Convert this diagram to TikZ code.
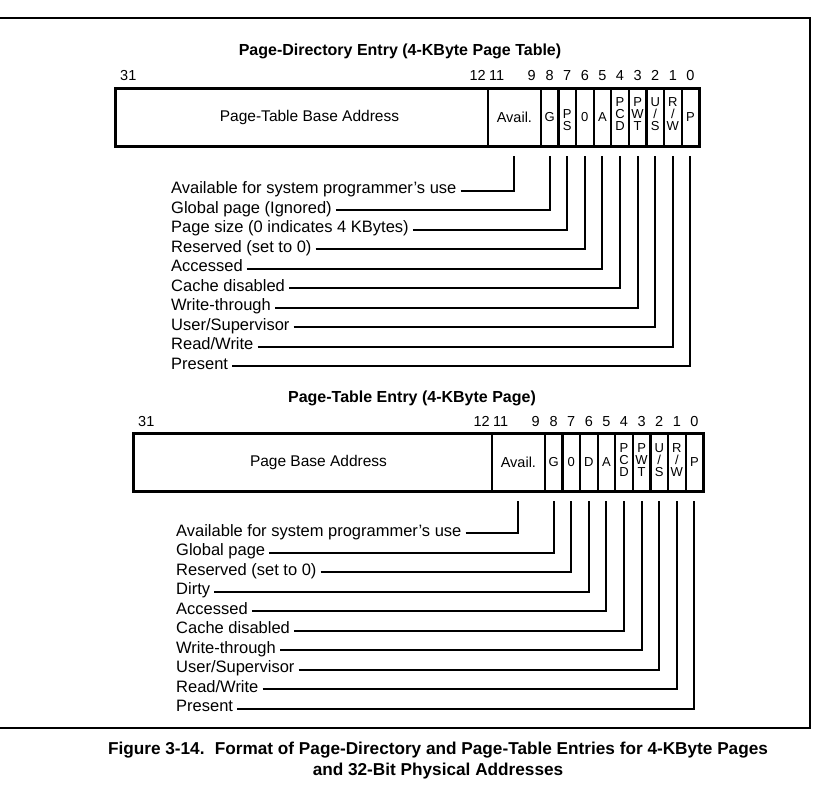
\documentclass[tikz,border=0pt]{standalone}
\usepackage{fontspec}
\setmainfont{Liberation Sans}
\begin{document}
\begin{tikzpicture}[x=1pt,y=-1pt,
  cell/.style={draw, line width=2.2pt, inner sep=0pt, outer sep=0pt,
    minimum height=58pt, font=\fontsize{15.5}{17}\selectfont},
  availcell/.style={cell, font=\fontsize{14.5}{16}\selectfont},
  bitcell/.style={cell, minimum width=17.6pt, font=\fontsize{13}{14}\selectfont},
  stk/.style={align=center, inner sep=0pt, font=\fontsize{13}{12}\selectfont},
  bitno/.style={inner sep=0pt, anchor=base, font=\fontsize{14.5}{16}\selectfont},
  ttl/.style={inner sep=0pt, font=\fontsize{16}{19}\selectfont\bfseries},
  captext/.style={inner sep=0pt, font=\fontsize{17.2}{20}\selectfont\bfseries},
  lbl/.style={anchor=base west, inner sep=0pt, font=\fontsize{16.5}{19}\selectfont},
  conn/.style={line width=2pt},
  outerframe/.style={line width=2.6pt},
  regframe/.style={line width=3pt}]
\useasboundingbox (0,0) rectangle (824,787);
\def\wb{17.6}

% surrounding frame, open at the left edge
\draw[outerframe] (0,18) -- (810,18) -- (810,728) -- (0,728);

% ---------------- page-directory entry ----------------
% \La: left edge of the register, \Aa: left edge of the Avail. field
\def\La{115}\def\Aa{488}
\node[ttl] (dtitle) at (400,51) {Page-Directory Entry (4-KByte Page Table)};

\node[bitno, anchor=base west] (db31) at ({\La+5},80.2) {31};
\node[bitno, anchor=base east] (db12) at ({\Aa-2},80.2) {12};
\node[bitno, anchor=base west] (db11) at ({\Aa+1},80.2) {11};
\node[bitno, anchor=base east] (db9) at ({\Aa+3*\wb-5},80.2) {9};
\foreach \b in {8,...,0}{
  \node[bitno] (db\b) at ({\Aa+(11-\b+0.5)*\wb},80.2) {\b};
}

\node[cell, minimum width=\Aa-\La] (d-base) at ({(\La+\Aa)/2},117) {};
\node (d-base-t) at ([xshift=8pt]d-base.center) [font=\fontsize{15.5}{17}\selectfont] {Page-Table Base Address};
\node[availcell, minimum width=3*\wb] (d-avl) at ({\Aa+1.5*\wb},117) {Avail.};
\node[bitcell] (d-g) at ({\Aa+3.5*\wb},117) {G};
\node[bitcell] (d-ps) at ({\Aa+4.5*\wb},117) {};
\node[bitcell] (d-z) at ({\Aa+5.5*\wb},117) {0};
\node[bitcell] (d-a) at ({\Aa+6.5*\wb},117) {A};
\node[bitcell] (d-pcd) at ({\Aa+7.5*\wb},117) {};
\node[bitcell] (d-pwt) at ({\Aa+8.5*\wb},117) {};
\node[bitcell] (d-us) at ({\Aa+9.5*\wb},117) {};
\node[bitcell] (d-rw) at ({\Aa+10.5*\wb},117) {};
\node[bitcell] (d-p) at ({\Aa+11.5*\wb},117) {P};
\node[stk] (d-ps-t) at ([yshift=-3pt]d-ps.center) {P\\S};
\node[stk] (d-pcd-t) at ([yshift=3pt]d-pcd.center) {P\\C\\D};
\node[stk] (d-pwt-t) at ([yshift=3pt]d-pwt.center) {P\\W\\T};
\node[stk] (d-us-t) at ([yshift=3pt]d-us.center) {U\\/\\S};
\node[stk] (d-rw-t) at ([yshift=3pt]d-rw.center) {R\\/\\W};
\draw[regframe] (d-base.north west) rectangle (d-p.south east);

\node[lbl] (dl0) at (171,193.5) {Available for system programmer's use};
\node[lbl] (dl1) at (171,213) {Global page (Ignored)};
\node[lbl] (dl2) at (171,232.5) {Page size (0 indicates 4 KBytes)};
\node[lbl] (dl3) at (171,252) {Reserved (set to 0)};
\node[lbl] (dl4) at (171,271.5) {Accessed};
\node[lbl] (dl5) at (171,291) {Cache disabled};
\node[lbl] (dl6) at (171,310.5) {Write-through};
\node[lbl] (dl7) at (171,330) {User/Supervisor};
\node[lbl] (dl8) at (171,349.5) {Read/Write};
\node[lbl] (dl9) at (171,369) {Present};

\draw[conn] ([xshift=4pt]dl0.mid east) -| ([yshift=-10pt]d-avl.south);
\draw[conn] ([xshift=4pt]dl1.mid east) -| ([yshift=-10pt]d-g.south);
\draw[conn] ([xshift=4pt]dl2.mid east) -| ([yshift=-10pt]d-ps.south);
\draw[conn] ([xshift=4pt]dl3.mid east) -| ([yshift=-10pt]d-z.south);
\draw[conn] ([xshift=4pt]dl4.mid east) -| ([yshift=-10pt]d-a.south);
\draw[conn] ([xshift=4pt]dl5.mid east) -| ([yshift=-10pt]d-pcd.south);
\draw[conn] ([xshift=4pt]dl6.mid east) -| ([yshift=-10pt]d-pwt.south);
\draw[conn] ([xshift=4pt]dl7.mid east) -| ([yshift=-10pt]d-us.south);
\draw[conn] ([xshift=4pt]dl8.mid east) -| ([yshift=-10pt]d-rw.south);
\draw[conn] ([xshift=4pt]dl9.mid east) -| ([yshift=-10pt]d-p.south);

% ---------------- page-table entry ----------------
\def\Lb{133}\def\Ab{492}
\node[ttl] (ttitle) at (412,398) {Page-Table Entry (4-KByte Page)};

\node[bitno, anchor=base west] (tb31) at ({\Lb+5},426.2) {31};
\node[bitno, anchor=base east] (tb12) at ({\Ab-2},426.2) {12};
\node[bitno, anchor=base west] (tb11) at ({\Ab+1},426.2) {11};
\node[bitno, anchor=base east] (tb9) at ({\Ab+3*\wb-5},426.2) {9};
\foreach \b in {8,...,0}{
  \node[bitno] (tb\b) at ({\Ab+(11-\b+0.5)*\wb},426.2) {\b};
}

\node[cell, minimum width=\Ab-\Lb] (t-base) at ({(\Lb+\Ab)/2},462) {};
\node (t-base-t) at ([xshift=6pt]t-base.center) [font=\fontsize{15.5}{17}\selectfont] {Page Base Address};
\node[availcell, minimum width=3*\wb] (t-avl) at ({\Ab+1.5*\wb},462) {Avail.};
\node[bitcell] (t-g) at ({\Ab+3.5*\wb},462) {G};
\node[bitcell] (t-z) at ({\Ab+4.5*\wb},462) {0};
\node[bitcell] (t-d) at ({\Ab+5.5*\wb},462) {D};
\node[bitcell] (t-a) at ({\Ab+6.5*\wb},462) {A};
\node[bitcell] (t-pcd) at ({\Ab+7.5*\wb},462) {};
\node[bitcell] (t-pwt) at ({\Ab+8.5*\wb},462) {};
\node[bitcell] (t-us) at ({\Ab+9.5*\wb},462) {};
\node[bitcell] (t-rw) at ({\Ab+10.5*\wb},462) {};
\node[bitcell] (t-p) at ({\Ab+11.5*\wb},462) {P};
\node[stk] (t-pcd-t) at ([yshift=2pt]t-pcd.center) {P\\C\\D};
\node[stk] (t-pwt-t) at ([yshift=2pt]t-pwt.center) {P\\W\\T};
\node[stk] (t-us-t) at ([yshift=2pt]t-us.center) {U\\/\\S};
\node[stk] (t-rw-t) at ([yshift=2pt]t-rw.center) {R\\/\\W};
\draw[regframe] (t-base.north west) rectangle (t-p.south east);

\node[lbl] (tl0) at (176,536) {Available for system programmer's use};
\node[lbl] (tl1) at (176,555.5) {Global page};
\node[lbl] (tl2) at (176,575) {Reserved (set to 0)};
\node[lbl] (tl3) at (176,594.5) {Dirty};
\node[lbl] (tl4) at (176,614) {Accessed};
\node[lbl] (tl5) at (176,633.5) {Cache disabled};
\node[lbl] (tl6) at (176,653) {Write-through};
\node[lbl] (tl7) at (176,672.5) {User/Supervisor};
\node[lbl] (tl8) at (176,692) {Read/Write};
\node[lbl] (tl9) at (176,711.5) {Present};

\draw[conn] ([xshift=4pt]tl0.mid east) -| ([yshift=-10pt]t-avl.south);
\draw[conn] ([xshift=4pt]tl1.mid east) -| ([yshift=-10pt]t-g.south);
\draw[conn] ([xshift=4pt]tl2.mid east) -| ([yshift=-10pt]t-z.south);
\draw[conn] ([xshift=4pt]tl3.mid east) -| ([yshift=-10pt]t-d.south);
\draw[conn] ([xshift=4pt]tl4.mid east) -| ([yshift=-10pt]t-a.south);
\draw[conn] ([xshift=4pt]tl5.mid east) -| ([yshift=-10pt]t-pcd.south);
\draw[conn] ([xshift=4pt]tl6.mid east) -| ([yshift=-10pt]t-pwt.south);
\draw[conn] ([xshift=4pt]tl7.mid east) -| ([yshift=-10pt]t-us.south);
\draw[conn] ([xshift=4pt]tl8.mid east) -| ([yshift=-10pt]t-rw.south);
\draw[conn] ([xshift=4pt]tl9.mid east) -| ([yshift=-10pt]t-p.south);

% ---------------- caption ----------------
\node[captext] (cap1) at (438,750) {Figure 3-14.\hspace{0.6em}Format of Page-Directory and Page-Table Entries for 4-KByte Pages};
\node[captext] (cap2) at (438,771) {and 32-Bit Physical Addresses};
\end{tikzpicture}
\end{document}
